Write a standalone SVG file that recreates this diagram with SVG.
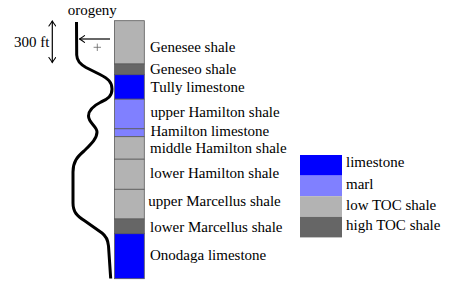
<svg xmlns="http://www.w3.org/2000/svg" width="460" height="290" viewBox="0 0 460 290">
<style>
.t{font-family:'Liberation Serif','Times New Roman','DejaVu Serif',serif;font-size:15px;fill:#000}
.lay{stroke:#5a5a5a;stroke-width:0.8}
.ls{fill:#0000ff}
.marl{fill:#8080ff}
.low{fill:#b3b3b3}
.high{fill:#666666}
.arr{fill:none;stroke:#000;stroke-width:1.2}
</style>
<defs>
<marker id="tip" viewBox="-6 -4 7 8" refX="0" refY="0" markerWidth="7" markerHeight="8" markerUnits="userSpaceOnUse" orient="auto-start-reverse">
<path d="M-5,-3.4 Q-1.6,-0.9 0,0 Q-1.6,0.9 -5,3.4" fill="none" stroke="#000" stroke-width="1.1" stroke-linecap="round"/>
</marker>
</defs>
<g id="column">
<rect class="lay low" x="114.5" y="20.7" width="29.8" height="43.3"/>
<rect class="lay high" x="114.5" y="64" width="29.8" height="10.7"/>
<rect class="lay ls" x="114.5" y="74.7" width="29.8" height="24.5"/>
<rect class="lay marl" x="114.5" y="99.2" width="29.8" height="29.6"/>
<rect class="lay marl" x="114.5" y="128.8" width="29.8" height="7.9"/>
<rect class="lay low" x="114.5" y="136.7" width="29.8" height="22.5"/>
<rect class="lay low" x="114.5" y="159.2" width="29.8" height="30.1"/>
<rect class="lay low" x="114.5" y="189.3" width="29.8" height="29.7"/>
<rect class="lay high" x="114.5" y="219" width="29.8" height="14.7"/>
<rect class="lay ls" x="114.5" y="233.7" width="29.8" height="45"/>
</g>
<g id="labels">
<text class="t" x="150" y="51.7">Genesee shale</text>
<text class="t" x="150" y="74.3">Geneseo shale</text>
<text class="t" x="150.5" y="92">Tully limestone</text>
<text class="t" x="150.5" y="117.3">upper Hamilton shale</text>
<text class="t" x="150.5" y="136.3">Hamilton limestone</text>
<text class="t" x="150" y="152.9">middle Hamilton shale</text>
<text class="t" x="150" y="177.7">lower Hamilton shale</text>
<text class="t" x="148.3" y="205.7">upper Marcellus shale</text>
<text class="t" x="150" y="231.7">lower Marcellus shale</text>
<text class="t" x="150" y="260.3">Onodaga limestone</text>
</g>
<g id="legend">
<rect class="ls" x="300" y="155" width="42" height="20.6"/>
<rect class="marl" x="300" y="175.6" width="42" height="20.6"/>
<rect class="low" x="300" y="196.2" width="42" height="20.6"/>
<rect class="high" x="300" y="216.8" width="42" height="20.6"/>
<text class="t" x="346" y="167.3">limestone</text>
<text class="t" x="346" y="189">marl</text>
<text class="t" x="346" y="210">low TOC shale</text>
<text class="t" x="346" y="230.3">high TOC shale</text>
</g>
<g id="orogeny-curve">
<text class="t" x="67.7" y="15">orogeny</text>
<path d="M76.5,22 L76.7,55 C77,61 80,64 86,67.5 L100,74.5 C108,78.5 112,82 112,89 C112,96 108,99 101,102 C93,106 88.5,110 88.5,116 C88.5,123 97,126 97,132 C97,139 90,145 84,151 C77,157 73,162 73,172 L73,203 C73,212 77,216 85,221 L102,233 C106,236 108,240 108.5,246 L110.7,278.5" fill="none" stroke="#000" stroke-width="3"/>
</g>
<g id="scale">
<text class="t" x="14" y="47">300 ft</text>
</g>
<g id="connectors">
<line class="arr" x1="52.3" y1="21" x2="52.3" y2="62.5" marker-start="url(#tip)" marker-end="url(#tip)"/>
<line class="arr" x1="110" y1="39" x2="79.5" y2="39" marker-end="url(#tip)"/>
<path d="M93.6,47.3 H101 M97.3,43.6 V51" fill="none" stroke="#666" stroke-width="0.8"/>
</g>
</svg>
